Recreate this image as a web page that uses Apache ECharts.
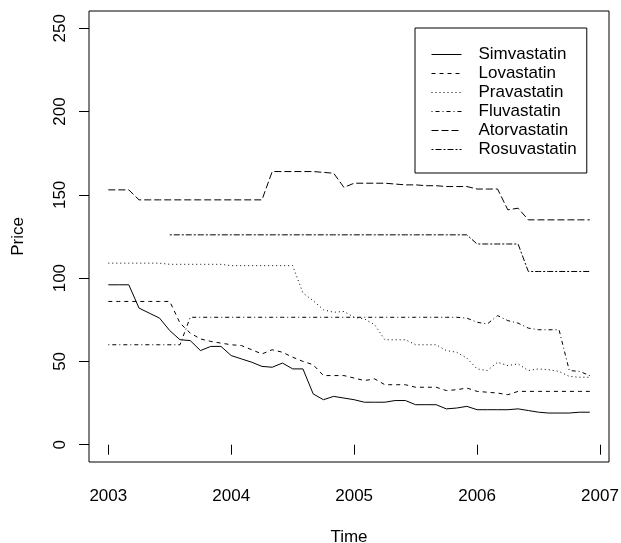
<!DOCTYPE html>
<html>
<head>
<meta charset="utf-8">
<script src="https://cdn.jsdelivr.net/npm/echarts@6/dist/echarts.min.js"></script>
<style>
  html, body { margin: 0; padding: 0; background: #fff; }
  #chart { width: 621px; height: 543px; }
</style>
</head>
<body>
<div id="chart"></div>
<script>
// Monthly statin prices, Jan 2003 – Dec 2006
const startYear = 2003;
const monthCount = 48;

const simvastatin = [
  96, 96, 96, 82, 79, 76, 68.5, 63, 62.5, 56.5, 59, 59,
  53.5, 51.5, 49.5, 47, 46.5, 49, 45.5, 45.5, 30.5, 27, 29, 28,
  27, 25.5, 25.5, 25.5, 26.5, 26.5, 24, 24, 24, 21.5, 22, 23,
  21, 21, 21, 21, 21.5, 20.5, 19.5, 19, 19, 19, 19.5, 19.5
];
const lovastatin = [
  86, 86, 86, 86, 86, 86, 86, 73, 67, 63.5, 62, 61,
  60, 59.5, 57, 54.5, 57, 55.5, 52.5, 50, 48, 41.5, 41.5, 41.5,
  40, 38.5, 39.5, 36, 36, 36, 34.5, 34.5, 34.5, 32.5, 33, 34,
  32, 31.5, 31, 30, 32, 32, 32, 32, 32, 32, 32, 32
];
const pravastatin = [
  109, 109, 109, 109, 109, 109, 108.3, 108.3, 108.3, 108.3, 108.3, 108.3,
  107.5, 107.5, 107.5, 107.5, 107.5, 107.5, 107.5, 91, 86.5, 81, 79.5, 80,
  76.5, 75.5, 72, 63, 63, 63, 60, 60, 60, 56.5, 55.5, 52,
  45.5, 44.5, 49.5, 47.5, 48.5, 44.5, 45.5, 45, 44, 41, 40.5, 40.5
];
const fluvastatin = [
  60, 60, 60, 60, 60, 60, 60, 60, 76.5, 76.5, 76.5, 76.5,
  76.5, 76.5, 76.5, 76.5, 76.5, 76.5, 76.5, 76.5, 76.5, 76.5, 76.5, 76.5,
  76.5, 76.5, 76.5, 76.5, 76.5, 76.5, 76.5, 76.5, 76.5, 76.5, 76.5, 76,
  73.5, 72.5, 77.5, 74.5, 73, 70, 69, 69, 69, 44.5, 44, 41.5
];
const atorvastatin = [
  153, 153, 153, 147, 147, 147, 147, 147, 147, 147, 147, 147,
  147, 147, 147, 147, 164, 164, 164, 164, 164, 163.5, 163, 154.5,
  157, 157, 157, 157, 156.5, 156, 156, 155.5, 155.5, 155, 155, 155,
  153.5, 153.5, 153.5, 141, 142, 135, 135, 135, 135, 135, 135, 135
];
const rosuvastatin = [
  null, null, null, null, null, null, 126, 126, 126, 126, 126, 126,
  126, 126, 126, 126, 126, 126, 126, 126, 126, 126, 126, 126,
  126, 126, 126, 126, 126, 126, 126, 126, 126, 126, 126, 126,
  120.5, 120.5, 120.5, 120.5, 120.5, 104, 104, 104, 104, 104, 104, 104
];

const xTicks = [2003, 2004, 2005, 2006, 2007];
const yTicks = [0, 50, 100, 150, 200, 250];

const drugNames = ['Simvastatin', 'Lovastatin', 'Pravastatin', 'Fluvastatin', 'Atorvastatin', 'Rosuvastatin'];
const drugValues = [simvastatin, lovastatin, pravastatin, fluvastatin, atorvastatin, rosuvastatin];
const dashPatterns = ['solid', [4, 4], [1, 3], [1, 3, 4, 3], [7, 3], [2, 2, 6, 2]];

const times = [];
for (let i = 0; i < monthCount; i++) times.push(startYear + i / 12);

const FONT = '"Liberation Sans", Arial, sans-serif';

const series = drugNames.map((name, k) => ({
  name: name,
  type: 'line',
  data: times.map((t, i) => [t, drugValues[k][i]]),
  showSymbol: false,
  symbol: 'none',
  connectNulls: false,
  animation: false,
  lineStyle: { color: '#000', width: 1, type: dashPatterns[k] },
  itemStyle: { color: '#000' }
}));

const chart = echarts.init(document.getElementById('chart'));
chart.setOption({
  backgroundColor: '#fff',
  animation: false,
  grid: {
    left: 89, right: 12, top: 11, bottom: 81,
    outerBoundsMode: 'none',
    containLabel: false,
    show: true, borderColor: '#000', borderWidth: 1, backgroundColor: 'transparent'
  },
  xAxis: {
    type: 'value',
    min: 2002.843, max: 2007.073,
    name: 'Time',
    nameLocation: 'middle',
    nameGap: 67,
    nameTextStyle: { fontFamily: FONT, fontSize: 17, color: '#000' },
    axisLine: { show: false },
    splitLine: { show: false },
    axisTick: { show: true, inside: false, length: 10, customValues: xTicks, lineStyle: { color: '#000', width: 1 } },
    axisLabel: { customValues: xTicks, margin: 26, fontFamily: FONT, fontSize: 17, color: '#000', formatter: v => String(v) }
  },
  yAxis: {
    type: 'value',
    min: -10.4, max: 260.4,
    name: 'Price',
    nameLocation: 'middle',
    nameGap: 62,
    nameRotate: 90,
    nameTextStyle: { fontFamily: FONT, fontSize: 17, color: '#000' },
    axisLine: { show: false },
    splitLine: { show: false },
    axisTick: { show: true, inside: false, length: 10, customValues: yTicks, lineStyle: { color: '#000', width: 1 } },
    axisLabel: { customValues: yTicks, rotate: 90, margin: 20, fontFamily: FONT, fontSize: 17, color: '#000', formatter: v => String(v) }
  },
  legend: {
    data: drugNames,
    orient: 'vertical',
    left: 415,
    top: 28,
    padding: [18, 10, 15, 16],
    itemWidth: 30,
    itemHeight: 14,
    itemGap: 2,
    backgroundColor: '#fff',
    borderColor: '#000',
    borderWidth: 1,
    selectedMode: false,
    itemStyle: { color: 'transparent', borderWidth: 0, opacity: 0 },
    lineStyle: { width: 1, color: '#000' },
    textStyle: { fontFamily: FONT, fontSize: 17, color: '#000', padding: [0, 0, 0, 12] }
  },
  series: series
});
</script>
</body>
</html>
